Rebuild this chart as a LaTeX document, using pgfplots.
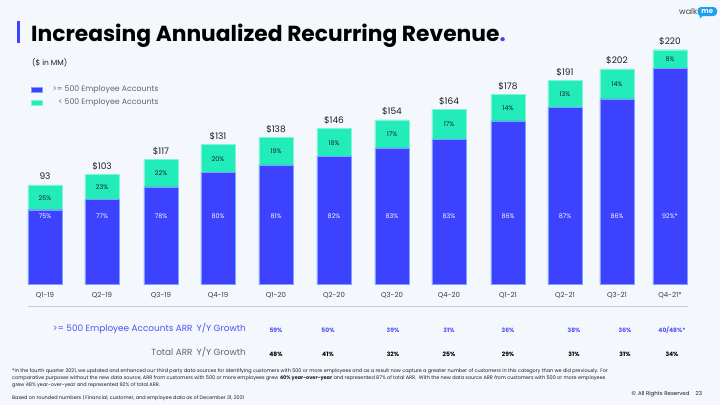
\documentclass[border=0pt]{standalone}
\usepackage{pgfplots}
\pgfplotsset{compat=1.18}
\usepackage{pgfplotstable}
\usepackage{fontspec}
\setmainfont{Poppins}
\newfontfamily\symfont{DejaVu Sans}
\definecolor{bgc}{RGB}{244,247,251}
\definecolor{wmblue}{RGB}{61,66,255}
\definecolor{wmgreen}{RGB}{34,236,186}
\definecolor{wmblueedge}{RGB}{120,165,255}
\definecolor{wmgreenedge}{RGB}{130,245,215}
\definecolor{wmtxtblue}{RGB}{78,82,250}
\definecolor{legtxt}{RGB}{100,100,106}
\definecolor{septxt}{RGB}{198,201,230}
\definecolor{logoblue}{RGB}{30,160,240}
\definecolor{darktxt}{RGB}{25,30,35}
\definecolor{ticktxt}{RGB}{60,60,66}
\newcommand\sz[1]{\fontsize{#1bp}{#1bp}\selectfont}
\tikzset{
  totlab/.style={anchor=base, inner sep=0pt, font=\sz{9}, text=darktxt, yshift=5bp},
  bluelab/.style={anchor=mid, inner sep=0pt, font=\sz{6.4}, text=white},
  greenlab/.style={anchor=mid, inner sep=0pt, font=\sz{6.4}, text=darktxt},
  growb/.style={anchor=mid, inner sep=0pt, font=\sz{6}\bfseries, text=wmtxtblue},
  growk/.style={anchor=mid, inner sep=0pt, font=\sz{6}\bfseries, text=black},
  foot/.style={anchor=mid west, inner sep=0pt, font=\sz{4.95}, text=darktxt},
}

\pgfplotstableread{
xp  blue    green  total
45  69.75   23.25  93
102 79.31   23.69  103
161 91.26   25.74  117
218 104.80  26.20  131
276 111.78  26.22  138
334 119.72  26.28  146
392 127.82  26.18  154
449 136.12  27.88  164
508 153.08  24.92  178
565 166.17  24.83  191
617 173.72  28.28  202
670 202.40  17.60  220
}\arrdata

\begin{document}
\begin{tikzpicture}
\begin{scope}[x=1bp,y=-1bp]
\fill[bgc] (0,0) rectangle (720,405);
% title
\fill[wmblue] (17.3,21) rectangle (20,43.3);
\node[anchor=base west, inner sep=0pt, font=\sz{21.8}\bfseries] at (31,41.7) {Increasing Annualized Recurring Revenue\textcolor{wmblue}{.}};
\node[anchor=mid west, inner sep=0pt, font=\sz{7.5}, text=darktxt] at (32,63) {(\$ in MM)};
% logo
\node[anchor=mid west, inner sep=0pt, font=\sz{8}, text=black!75] at (679,11.5) {walk};
\fill[logoblue, rounded corners=3.5bp] (697.5,7) rectangle (717,16);
\fill[logoblue] (700,15) -- (699.5,18.5) -- (704,15) -- cycle;
\node[text=white, inner sep=0pt, font=\sz{7}\bfseries] at (707.3,11.3) {me};
% separator
\draw[septxt, line width=0.8bp] (28,306) -- (688,306);
% growth rows
\node[anchor=mid east, inner sep=0pt, font=\sz{8.9}, text=wmtxtblue] at (246,329) {>= 500 Employee Accounts ARR\hspace{4bp}Y/Y Growth};
\node[anchor=mid east, inner sep=0pt, font=\sz{8.9}, text=legtxt] at (246,352.3) {Total ARR\hspace{4bp}Y/Y Growth};
\node[growb] at (276,329.7) {59\%};
\node[growb] at (328,329.7) {50\%};
\node[growb] at (393,329.7) {39\%};
\node[growb] at (449,329.7) {31\%};
\node[growb] at (508,329.7) {36\%};
\node[growb] at (574,329.7) {38\%};
\node[growb] at (625,329.7) {36\%};
\node[growb] at (672,329.7) {40/48\%*};
\node[growk] at (276,353.7) {48\%};
\node[growk] at (328,353.7) {41\%};
\node[growk] at (393,353.7) {32\%};
\node[growk] at (449,353.7) {25\%};
\node[growk] at (508,353.7) {29\%};
\node[growk] at (574,353.7) {31\%};
\node[growk] at (625,353.7) {31\%};
\node[growk] at (672,353.7) {34\%};
% footnotes
\node[foot] at (12,370) {*In the fourth quarter 2021, we updated and enhanced our third party data sources for identifying customers with 500 or more employees and as a result now capture a greater number of customers in this category than we did previously. For};
\node[foot] at (12,377) {comparative purposes without the new data source, ARR from customers with 500 or more employees grew \textbf{40\% year-over-year} and represented 87\% of total ARR.\ \ With the new data source ARR from customers with 500 or more employees};
\node[foot] at (12,384) {grew 48\% year-over-year and represented 92\% of total ARR.};
\node[foot] at (12,397) {Based on rounded numbers | Financial, customer, and employee data as of December 31, 2021};
\node[anchor=mid west, inner sep=0pt, font=\sz{5.5}, text=darktxt] at (631,393) {{\symfont ©} All Rights Reserved\hspace{6bp}23};
\end{scope}

\begin{axis}[
  scale only axis, width=720bp, height=266.25bp,
  at={(0bp,-284bp)}, anchor=south west,
  xmin=0, xmax=720, ymin=0, ymax=250,
  axis line style={draw=none}, major tick length=0pt,
  ytick=\empty,
  xtick={45,102,161,218,276,334,392,449,508,565,617,670},
  xticklabels={Q1-19,Q2-19,Q3-19,Q4-19,Q1-20,Q2-20,Q3-20,Q4-20,Q1-21,Q2-21,Q3-21,Q4-21*},
  xticklabel style={font=\sz{7}, text=ticktxt, yshift=-5bp},
  clip=false,
  ybar stacked, bar width=34.5,
  legend style={at={(axis cs:31,188)}, anchor=north west, draw=none, fill=none,
    font=\sz{7.8}, text=legtxt, inner sep=0pt, row sep=2bp, cells={anchor=west}},
  legend image code/.code={\fill[#1] (0bp,-2.4bp) rectangle (11bp,2.4bp);},
]
\addplot[fill=wmblue, draw=wmblueedge, line width=0.4bp] table[x=xp, y=blue] {\arrdata};
\addlegendentry{\hspace*{5bp}\makebox[13bp][r]{>=}\ 500 Employee Accounts}
\addplot[fill=wmgreen, draw=wmgreenedge, line width=0.4bp] table[x=xp, y=green] {\arrdata};
\addlegendentry{\hspace*{5bp}\makebox[13bp][r]{<}\ 500 Employee Accounts}
% label anchors: totals (T), blue share (B), green share (G)
\coordinate (T1) at (axis cs:45,93);
\coordinate (T2) at (axis cs:102,103);
\coordinate (T3) at (axis cs:161,117);
\coordinate (T4) at (axis cs:218,131);
\coordinate (T5) at (axis cs:276,138);
\coordinate (T6) at (axis cs:334,146);
\coordinate (T7) at (axis cs:392,154);
\coordinate (T8) at (axis cs:449,164);
\coordinate (T9) at (axis cs:508,178);
\coordinate (T10) at (axis cs:565,191);
\coordinate (T11) at (axis cs:617,202);
\coordinate (T12) at (axis cs:670,220);
\coordinate (B1) at (axis cs:45,64);
\coordinate (B2) at (axis cs:102,64);
\coordinate (B3) at (axis cs:161,64);
\coordinate (B4) at (axis cs:218,64);
\coordinate (B5) at (axis cs:276,64);
\coordinate (B6) at (axis cs:334,64);
\coordinate (B7) at (axis cs:392,64);
\coordinate (B8) at (axis cs:449,64);
\coordinate (B9) at (axis cs:508,64);
\coordinate (B10) at (axis cs:565,64);
\coordinate (B11) at (axis cs:617,64);
\coordinate (B12) at (axis cs:670,64);
\coordinate (G1) at (axis cs:45,81.4);
\coordinate (G2) at (axis cs:102,91.2);
\coordinate (G3) at (axis cs:161,104.1);
\coordinate (G4) at (axis cs:218,117.9);
\coordinate (G5) at (axis cs:276,124.9);
\coordinate (G6) at (axis cs:334,132.9);
\coordinate (G7) at (axis cs:392,140.9);
\coordinate (G8) at (axis cs:449,150.1);
\coordinate (G9) at (axis cs:508,165.5);
\coordinate (G10) at (axis cs:565,178.6);
\coordinate (G11) at (axis cs:617,187.9);
\coordinate (G12) at (axis cs:670,211.2);
\end{axis}
% labels on top of the bars
\foreach \i/\t in {1/93,2/\$103,3/\$117,4/\$131,5/\$138,6/\$146,7/\$154,8/\$164,9/\$178,10/\$191,11/\$202,12/\$220}
  \node[totlab] at (T\i) {\t};
\foreach \i/\t in {1/75,2/77,3/78,4/80,5/81,6/82,7/83,8/83,9/86,10/87,11/86,12/92}
  \node[bluelab] at (B\i) {\t\%\ifnum\i=12*\fi};
\foreach \i/\t in {1/25,2/23,3/22,4/20,5/19,6/18,7/17,8/17,9/14,10/13,11/14,12/8}
  \node[greenlab] at (G\i) {\t\%};
\pgfresetboundingbox
\path[use as bounding box] (0bp,0bp) rectangle (720bp,-405bp);
\end{tikzpicture}
\end{document}
